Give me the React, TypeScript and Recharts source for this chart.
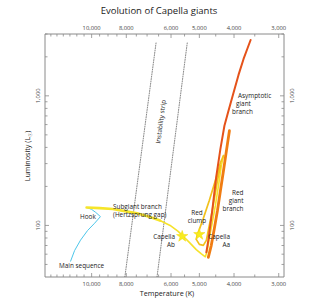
import React from 'react';
import { ScatterChart, Scatter, XAxis, YAxis, Symbols } from 'recharts';

// [temperature K, luminosity Lsun]
const mainSequence = [
  [11450, 53], [11160, 64], [10740, 77], [10260, 91.5], [9810, 104],
  [9450, 117], [9740, 126], [10000, 133], [10330, 137.5],
];
const subgiantTrack = [
  [10330, 137.5], [9500, 136], [8730, 134], [8080, 129], [7470, 124], [6870, 116],
  [6440, 109],
];
const rgbBaseTrack = [
  [6440, 109], [6035, 100], [5730, 90], [5510, 81], [5300, 72.7], [5100, 65],
  [4935, 60.4], [4810, 57.3], [4750, 64.2], [4690, 79.4], [4600, 105.5],
  [4510, 142.5], [4420, 203], [4340, 289], [4280, 346],
];
const clumpTrack = [
  [4280, 346], [4365, 305], [4510, 222], [4690, 156], [4875, 113], [5000, 93.2],
  [5065, 85.2], [5100, 78], [5000, 71.4], [4875, 70.2], [4780, 76.7], [4720, 91.5],
  [4630, 119], [4540, 161], [4450, 222], [4365, 289],
];
const rgbTrack = [
  [4720, 56.7], [4630, 70.2], [4540, 94.8], [4450, 130.4], [4365, 186],
  [4280, 265], [4200, 378], [4120, 538],
];
const agbTrack = [
  [4780, 62], [4720, 76.7], [4660, 100], [4600, 130.4], [4540, 179], [4480, 242],
  [4365, 391], [4255, 588], [4145, 766], [4013, 1055], [3886, 1450], [3762, 1926],
  [3665, 2339], [3595, 2697],
];
const stripBlueEdge = [[8075, 40], [6607, 2557]];
const stripRedEdge = [[6566, 40], [5405, 2557]];
const capellaStars = [[5583, 82.3], [5001, 85.2]];

const tempTicks = [
  3000, 3500, 4000, 4500, 5000, 5500, 6000, 6500, 7000, 7500, 8000, 8500, 9000,
  9500, 10000, 10500, 11000, 11500, 12000, 12500, 13000,
];
const tempLabels = [3000, 4000, 5000, 6000, 8000, 10000];
const lumTicks = [50, 60, 70, 80, 90, 100, 200, 300, 400, 500, 600, 700, 800, 900, 1000, 2000, 3000];
const lumLabels = [100, 1000];

const toPts = (arr: number[][]) => arr.map(([t, l]) => ({ t, l }));
const fmt = (v: number) => v.toLocaleString('en-US');
const FONT = '"Open Sans", sans-serif';
const AXIS = '#8a8a8a';

const Empty = () => <g />;

const makeXTick = (side: 'top' | 'bottom') => (props: any) => {
  const { x, y, payload } = props;
  const major = tempLabels.includes(payload.value);
  const dir = side === 'bottom' ? -1 : 1;
  return (
    <g>
      <line x1={x} x2={x} y1={y} y2={y + dir * (major ? 4 : 2.5)} stroke={AXIS} strokeWidth={0.8} />
      {major && (
        <text x={x} y={side === 'bottom' ? y + 8.5 : y - 4} textAnchor="middle" fontSize={5.8} fill="#444" fontFamily={FONT}>
          {fmt(payload.value)}
        </text>
      )}
    </g>
  );
};

const makeYTick = (side: 'left' | 'right') => (props: any) => {
  const { x, y, payload } = props;
  const major = lumLabels.includes(payload.value);
  const dir = side === 'left' ? 1 : -1;
  const tx = side === 'left' ? x - 7 : x + 7.5;
  return (
    <g>
      <line x1={x} x2={x + dir * (major ? 4 : 2.5)} y1={y} y2={y} stroke={AXIS} strokeWidth={0.8} />
      {major && (
        <text x={tx} y={y} dy="0.35em" textAnchor="middle" fontSize={5.8} fill="#444" fontFamily={FONT} transform={`rotate(-90, ${tx}, ${y})`}>
          {fmt(payload.value)}
        </text>
      )}
    </g>
  );
};

const StarShape = (props: any) => (
  <Symbols cx={props.cx} cy={props.cy} type="star" size={40} fill="#f7ec1e" stroke="#f2d80a" strokeWidth={0.5} />
);

const Note = ({ x, y, anchor = 'start', children }: any) => (
  <text x={x} y={y} textAnchor={anchor} fontSize={6.4} fill="#222" fontFamily={FONT}>
    {children}
  </text>
);

export default function App() {
  const line = (stroke: string, w: number, dash?: string) => ({
    stroke, strokeWidth: w, strokeDasharray: dash, fill: 'none', strokeLinejoin: 'round' as const, strokeLinecap: 'round' as const,
  });
  return (
    <div style={{ position: 'absolute', left: 0, top: 0, width: 330, height: 306, background: '#fff' }}>
      <ScatterChart width={330} height={306} margin={{ top: 0, right: 0, bottom: 0, left: 0 }}>
        <XAxis
          xAxisId="bottom" orientation="bottom" dataKey="t" type="number" scale="log" reversed
          domain={[2900, 13500]} allowDataOverflow ticks={tempTicks} interval={0}
          height={29} tickSize={0} tickMargin={0} stroke={AXIS} tick={makeXTick('bottom')}
        />
        <XAxis
          xAxisId="top" orientation="top" dataKey="t" type="number" scale="log" reversed
          domain={[2900, 13500]} allowDataOverflow ticks={tempTicks} interval={0}
          height={34} tickSize={0} tickMargin={0} stroke={AXIS} tick={makeXTick('top')}
        />
        <YAxis
          yAxisId="left" orientation="left" dataKey="l" type="number" scale="log"
          domain={[40, 3000]} allowDataOverflow ticks={lumTicks} interval={0}
          width={45} tickSize={0} tickMargin={0} stroke={AXIS} tick={makeYTick('left')}
        />
        <YAxis
          yAxisId="right" orientation="right" dataKey="l" type="number" scale="log"
          domain={[40, 3000]} allowDataOverflow ticks={lumTicks} interval={0}
          width={46} tickSize={0} tickMargin={0} stroke={AXIS} tick={makeYTick('right')}
        />
        <Scatter xAxisId="bottom" yAxisId="left" data={toPts(stripBlueEdge)} line={line('#555', 0.7, '1 1.4')} shape={Empty} isAnimationActive={false} />
        <Scatter xAxisId="bottom" yAxisId="left" data={toPts(stripRedEdge)} line={line('#555', 0.7, '1 1.4')} shape={Empty} isAnimationActive={false} />
        <Scatter xAxisId="bottom" yAxisId="left" data={toPts(mainSequence)} line={line('#4cc6ea', 1)} shape={Empty} isAnimationActive={false} />
        <Scatter xAxisId="bottom" yAxisId="left" data={toPts(subgiantTrack)} line={line('#f6e52a', 2.6)} shape={Empty} isAnimationActive={false} />
        <Scatter xAxisId="bottom" yAxisId="left" data={toPts(rgbBaseTrack)} line={line('#f6e22a', 1.6)} shape={Empty} isAnimationActive={false} />
        <Scatter xAxisId="bottom" yAxisId="left" data={toPts(clumpTrack)} line={line('#f2c11c', 1.7)} shape={Empty} isAnimationActive={false} />
        <Scatter xAxisId="bottom" yAxisId="left" data={toPts(agbTrack)} line={line('#e5521a', 2)} shape={Empty} isAnimationActive={false} />
        <Scatter xAxisId="bottom" yAxisId="left" data={toPts(rgbTrack)} line={line('#f07c12', 2.8)} shape={Empty} isAnimationActive={false} />
        <Scatter xAxisId="bottom" yAxisId="left" data={toPts(capellaStars)} shape={StarShape} isAnimationActive={false} />
      </ScatterChart>
      <svg width={330} height={306} style={{ position: 'absolute', left: 0, top: 0, pointerEvents: 'none' }}>
        <text x={159} y={14} textAnchor="middle" fontSize={9.5} fill="#222" fontFamily={FONT}>Evolution of Capella giants</text>
        <text x={167} y={296} textAnchor="middle" fontSize={7.2} fill="#222" fontFamily={FONT}>Temperature (K)</text>
        <text x={30} y={156} textAnchor="middle" fontSize={7.2} fill="#222" fontFamily={FONT} transform="rotate(-90, 30, 156)">
          Luminosity (L<tspan fontSize={5} dy={1.5}>☉</tspan><tspan dy={-1.5}>)</tspan>
        </text>
        <text x={163} y={122} textAnchor="middle" fontSize={6.4} fill="#222" fontFamily={FONT} transform="rotate(-82.5, 163, 122)">Instability strip</text>
        <Note x={59} y={267.5}>Main sequence</Note>
        <Note x={80} y={218.5}>Hook</Note>
        <Note x={113} y={209}>Subgiant branch</Note>
        <Note x={113} y={216.5}>(Hertzsprung gap)</Note>
        <Note x={175} y={238.5} anchor="end">Capella</Note>
        <Note x={175} y={246.5} anchor="end">Ab</Note>
        <Note x={197} y={214.5} anchor="middle">Red</Note>
        <Note x={197} y={222.5} anchor="middle">clump</Note>
        <Note x={230} y={238.5} anchor="end">Capella</Note>
        <Note x={230} y={246.5} anchor="end">Aa</Note>
        <Note x={243.5} y={195} anchor="end">Red</Note>
        <Note x={243.5} y={203} anchor="end">giant</Note>
        <Note x={243.5} y={211} anchor="end">branch</Note>
        <Note x={238} y={97.5}>Asymptotic</Note>
        <Note x={236} y={105.5}>giant</Note>
        <Note x={232} y={113.5}>branch</Note>
      </svg>
    </div>
  );
}
